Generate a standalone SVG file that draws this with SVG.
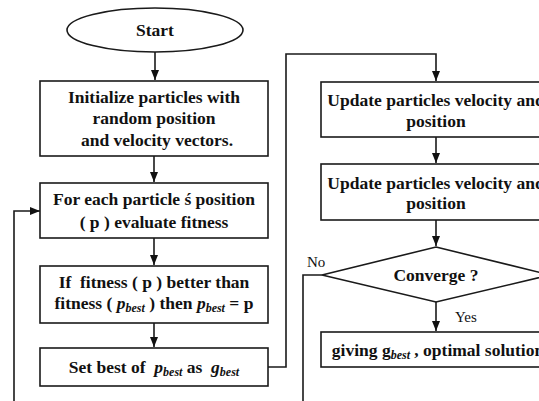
<svg xmlns="http://www.w3.org/2000/svg" width="539" height="401" viewBox="0 0 539 401">
<defs>
<style>
.n{fill:#fff;stroke:#1a1a1a;stroke-width:1.6}
.c{fill:none;stroke:#1a1a1a;stroke-width:1.6}
.t{font-family:"Liberation Serif","Times New Roman",serif;font-size:17.5px;font-weight:bold;fill:#111;text-anchor:middle;white-space:pre}
.l{font-family:"Liberation Serif","Times New Roman",serif;font-size:15px;fill:#111}
.i{font-style:italic}
.s{font-style:italic;font-size:12px}
</style>
<marker id="a" markerWidth="10" markerHeight="10" refX="10" refY="5" orient="auto" markerUnits="userSpaceOnUse">
<path d="M0,1 L10,5 L0,9 Z" fill="#111"/>
</marker>
</defs>
<rect width="539" height="401" fill="#fff"/>
<g id="connectors">
<path class="c" d="M155,52 V80" marker-end="url(#a)"/>
<path class="c" d="M154,156 V182" marker-end="url(#a)"/>
<path class="c" d="M154,238 V265" marker-end="url(#a)"/>
<path class="c" d="M154,323 V347" marker-end="url(#a)"/>
<path class="c" d="M268,367 H286 V54 H436 V81" marker-end="url(#a)"/>
<path class="c" d="M436,137 V163" marker-end="url(#a)"/>
<path class="c" d="M436,220 V246" marker-end="url(#a)"/>
<path class="c" d="M436,302 V331" marker-end="url(#a)"/>
<path class="c" d="M322,275 H303 V401"/>
<path class="c" d="M14,401 V211 H40" marker-end="url(#a)"/>
<text class="l" x="307" y="267">No</text>
<text class="l" x="455" y="322">Yes</text>
</g>
<g id="start">
<ellipse class="n" cx="155" cy="30" rx="88" ry="22"/>
<text class="t" x="155" y="36">Start</text>
</g>
<g id="init">
<rect class="n" x="40" y="81" width="228" height="75"/>
<text class="t" x="154" y="103">Initialize particles with</text>
<text class="t" x="154" y="124">random position</text>
<text class="t" x="157" y="146">and velocity vectors.</text>
</g>
<g id="evaluate">
<rect class="n" x="40" y="183" width="228" height="55"/>
<text class="t" x="154" y="205">For each particle ś position</text>
<text class="t" x="154" y="228">( p ) evaluate fitness</text>
</g>
<g id="pbest">
<rect class="n" x="40" y="266" width="228" height="57"/>
<text class="t" x="154" y="288">If  fitness ( p ) better than</text>
<text class="t" x="154" y="309">fitness ( <tspan class="i">p</tspan><tspan class="s" dy="3">best</tspan><tspan dy="-3"> ) then </tspan><tspan class="i">p</tspan><tspan class="s" dy="3">best</tspan><tspan dy="-3"> = p</tspan></text>
</g>
<g id="gbest">
<rect class="n" x="40" y="348" width="228" height="38"/>
<text class="t" x="154" y="373">Set best of  <tspan class="i">p</tspan><tspan class="s" dy="3">best</tspan><tspan dy="-3"> as  </tspan><tspan class="i">g</tspan><tspan class="s" dy="3">best</tspan></text>
</g>
<g id="update1">
<rect class="n" x="321" y="82" width="230" height="55"/>
<text class="t" x="436" y="106">Update particles velocity and</text>
<text class="t" x="436" y="127">position</text>
</g>
<g id="update2">
<rect class="n" x="321" y="164" width="230" height="56"/>
<text class="t" x="436" y="189">Update particles velocity and</text>
<text class="t" x="436" y="209">position</text>
</g>
<g id="converge">
<polygon class="n" points="436,247 550,275 436,302 322,275"/>
<text class="t" x="436" y="281">Converge ?</text>
</g>
<g id="result">
<rect class="n" x="321" y="332" width="230" height="35"/>
<text class="t" x="438" y="356">giving g<tspan class="s" dy="3">best</tspan><tspan dy="-3"> , optimal solution</tspan></text>
</g>
</svg>
